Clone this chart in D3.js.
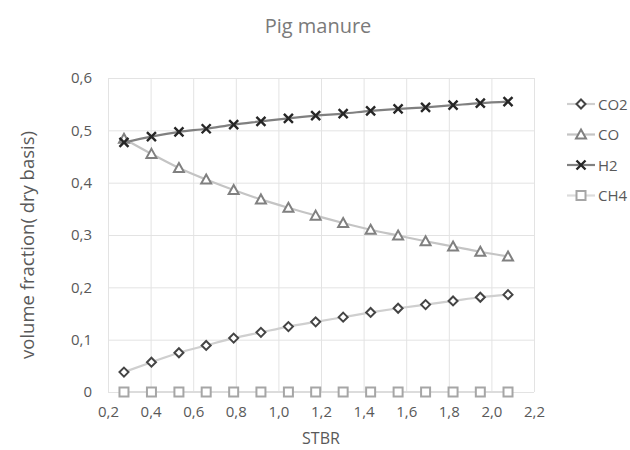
<!DOCTYPE html>
<html>
<head>
<meta charset="utf-8">
<script src="https://cdn.jsdelivr.net/npm/d3@7"></script>
<style>
  body { margin: 0; background: #fff; }
  text { font-family: "Open Sans", sans-serif; }
</style>
</head>
<body>
<div id="chart"></div>
<script>
// STBR values
const stbr = [0.275, 0.404, 0.533, 0.661, 0.790, 0.918, 1.047, 1.175, 1.304, 1.433, 1.562, 1.691, 1.820, 1.948, 2.078];

const co2 = [0.038, 0.057, 0.075, 0.089, 0.103, 0.114, 0.125, 0.134, 0.143, 0.152, 0.160, 0.167, 0.174, 0.181, 0.186];
const co  = [0.484, 0.455, 0.428, 0.406, 0.386, 0.368, 0.352, 0.337, 0.323, 0.310, 0.299, 0.288, 0.278, 0.268, 0.259];
const h2  = [0.477, 0.488, 0.497, 0.503, 0.511, 0.517, 0.523, 0.528, 0.532, 0.537, 0.541, 0.544, 0.548, 0.552, 0.555];
const ch4 = [0, 0, 0, 0, 0, 0, 0, 0, 0, 0, 0, 0, 0, 0, 0];

const xTicks = [0.2, 0.4, 0.6, 0.8, 1.0, 1.2, 1.4, 1.6, 1.8, 2.0, 2.2];
const yTicks = [0, 0.1, 0.2, 0.3, 0.4, 0.5, 0.6];

const seriesNames = ["CO2", "CO", "H2", "CH4"];
const seriesValues = [co2, co, h2, ch4];

const width = 630, height = 450;
const margin = { top: 78, right: 96, bottom: 58, left: 108 };

// series styling: line colour, marker shape and colour
const styles = {
    CO2: { line: "#cfcfcf", marker: "diamond", stroke: "#444444" },
    CO:  { line: "#c4c4c4", marker: "triangle", stroke: "#808080" },
    H2:  { line: "#808080", marker: "cross", stroke: "#262626" },
    CH4: { line: "#dcdcdc", marker: "square", stroke: "#a6a6a6" }
};

const commaFmt = v => v === 0 ? "0" : d3.format(".1f")(v).replace(".", ",");

const svg = d3.select("#chart").append("svg")
    .attr("width", width)
    .attr("height", height);

const x = d3.scaleLinear().domain([0.2, 2.2]).range([margin.left, width - margin.right]);
const y = d3.scaleLinear().domain([0, 0.6]).range([height - margin.bottom, margin.top]);

// grid
svg.append("g")
    .attr("transform", `translate(0,${height - margin.bottom})`)
    .call(d3.axisBottom(x).tickValues(xTicks).tickSize(-(height - margin.top - margin.bottom)).tickFormat(""))
    .call(g => g.select(".domain").remove())
    .call(g => g.selectAll("line").attr("stroke", "#e3e3e3"));

svg.append("g")
    .attr("transform", `translate(${margin.left},0)`)
    .call(d3.axisLeft(y).tickValues(yTicks).tickSize(-(width - margin.left - margin.right)).tickFormat(""))
    .call(g => g.select(".domain").remove())
    .call(g => g.selectAll("line").attr("stroke", "#e3e3e3"));

// tick labels
svg.append("g")
    .attr("transform", `translate(0,${height - margin.bottom})`)
    .call(d3.axisBottom(x).tickValues(xTicks).tickSize(0).tickPadding(14).tickFormat(commaFmt))
    .call(g => g.select(".domain").remove())
    .call(g => g.selectAll("text")
        .attr("fill", "#595959")
        .style("font-size", "15px")
        .style("font-family", "Open Sans, sans-serif"));

svg.append("g")
    .attr("transform", `translate(${margin.left},0)`)
    .call(d3.axisLeft(y).tickValues(yTicks).tickSize(0).tickPadding(16).tickFormat(commaFmt))
    .call(g => g.select(".domain").remove())
    .call(g => g.selectAll("text")
        .attr("fill", "#595959")
        .style("font-size", "15px")
        .style("font-family", "Open Sans, sans-serif"));

// titles
svg.append("text")
    .attr("x", 318).attr("y", 33)
    .attr("text-anchor", "middle")
    .attr("fill", "#7a7a7a")
    .style("font-size", "20px")
    .text("Pig manure");

svg.append("text")
    .attr("x", (margin.left + width - margin.right) / 2)
    .attr("y", 444)
    .attr("text-anchor", "middle")
    .attr("fill", "#595959")
    .style("font-size", "16px")
    .text("STBR");

svg.append("text")
    .attr("transform", `translate(34,245) rotate(-90)`)
    .attr("text-anchor", "middle")
    .attr("fill", "#595959")
    .style("font-size", "18.5px")
    .text("volume fraction( dry basis)");

// markers
function drawMarker(g, type, stroke) {
    if (type === "diamond") {
        g.append("path").attr("d", "M0,-4.5L4.5,0L0,4.5L-4.5,0Z")
            .attr("fill", "#fff").attr("stroke", stroke).attr("stroke-width", 2);
    } else if (type === "triangle") {
        g.append("path").attr("d", "M0,-5L5,4L-5,4Z")
            .attr("fill", "#fff").attr("stroke", stroke).attr("stroke-width", 2);
    } else if (type === "cross") {
        g.append("path").attr("d", "M-4.5,-4.5L4.5,4.5M-4.5,4.5L4.5,-4.5")
            .attr("fill", "none").attr("stroke", stroke).attr("stroke-width", 2.4);
    } else if (type === "square") {
        g.append("rect").attr("x", -4.5).attr("y", -4.5).attr("width", 9).attr("height", 9)
            .attr("fill", "#fff").attr("stroke", stroke).attr("stroke-width", 2);
    }
}

const line = d3.line()
    .x(d => x(d[0]))
    .y(d => y(d[1]))
    .curve(d3.curveMonotoneX);

seriesNames.forEach((name, i) => {
    const pts = stbr.map((s, j) => [s, seriesValues[i][j]]);
    const st = styles[name];
    const g = svg.append("g");
    g.append("path")
        .datum(pts)
        .attr("d", line)
        .attr("fill", "none")
        .attr("stroke", st.line)
        .attr("stroke-width", 2.2);
    pts.forEach(p => {
        drawMarker(g.append("g").attr("transform", `translate(${x(p[0])},${y(p[1])})`), st.marker, st.stroke);
    });
});

// legend
const legend = svg.append("g").attr("transform", "translate(567,104)");
seriesNames.forEach((name, i) => {
    const st = styles[name];
    const item = legend.append("g").attr("transform", `translate(0,${i * 30.5})`);
    item.append("line").attr("x1", 0).attr("x2", 28).attr("y1", 0).attr("y2", 0)
        .attr("stroke", st.line).attr("stroke-width", 2.2);
    drawMarker(item.append("g").attr("transform", "translate(14,0)"), st.marker, st.stroke);
    item.append("text")
        .attr("x", 31).attr("y", 5.5)
        .attr("fill", "#595959")
        .style("font-size", "15px")
        .text(name);
});
</script>
</body>
</html>
